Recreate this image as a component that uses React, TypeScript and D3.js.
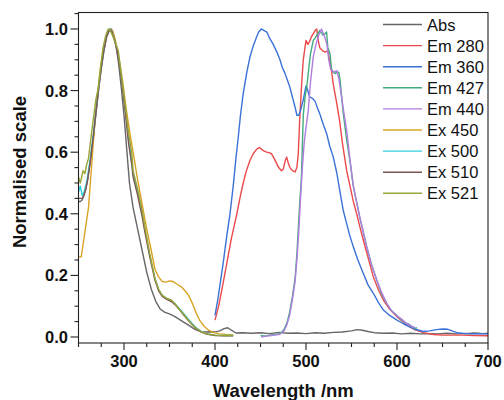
import React from "react";
import * as d3 from "d3";

const seriesNames = ["Abs", "Em 280", "Em 360", "Em 427", "Em 440", "Ex 450", "Ex 500", "Ex 510", "Ex 521"];
const seriesColors = ["#666666", "#eb4a4c", "#3b72d8", "#43ab7c", "#b07ee0", "#d9a424", "#30cfdc", "#7d5454", "#9aa63a"];

const absData: [number, number][] = [
  [250, 0.44], [252, 0.44], [254, 0.445], [256, 0.46], [258, 0.48], [260, 0.51], [263, 0.57], [266, 0.64], [269, 0.72],
  [272, 0.8], [275, 0.87], [278, 0.93], [281, 0.975], [284, 0.995], [286, 1.0], [288, 0.99], [291, 0.95], [294, 0.89],
  [297, 0.81], [300, 0.72], [303, 0.61], [306, 0.5], [310, 0.42], [315, 0.35], [320, 0.28], [325, 0.21], [330, 0.155],
  [335, 0.115], [340, 0.09], [345, 0.08], [350, 0.075], [356, 0.066], [362, 0.055], [370, 0.04], [378, 0.025], [385, 0.017],
  [390, 0.016], [395, 0.017], [400, 0.016], [405, 0.02], [410, 0.027], [414, 0.03], [418, 0.022], [423, 0.013], [430, 0.014],
  [440, 0.012], [450, 0.014], [460, 0.011], [470, 0.015], [480, 0.012], [490, 0.013], [500, 0.011], [510, 0.014], [520, 0.012],
  [530, 0.015], [540, 0.016], [550, 0.02], [556, 0.024], [562, 0.022], [568, 0.018], [575, 0.014], [585, 0.012], [595, 0.013],
  [605, 0.01], [615, 0.012], [625, 0.01], [635, 0.011], [645, 0.01], [655, 0.012], [665, 0.01], [675, 0.011], [685, 0.013],
  [695, 0.011], [700, 0.012],
];

const em280Data: [number, number][] = [
  [400, 0.055], [404, 0.1], [408, 0.16], [413, 0.24], [418, 0.32], [424, 0.4], [428, 0.46], [431, 0.5], [434.5, 0.54],
  [438.5, 0.574], [442, 0.595], [445.8, 0.61], [449, 0.615], [453, 0.605], [456.8, 0.6], [460, 0.598], [462, 0.595],
  [465, 0.58], [467.8, 0.563], [470, 0.55], [473, 0.54], [475, 0.545], [477, 0.57], [478.8, 0.584], [480.5, 0.565],
  [482.4, 0.55], [485, 0.54], [488, 0.536], [490, 0.55], [491.5, 0.595], [493, 0.7], [495, 0.81], [497, 0.9], [500, 0.963],
  [502, 0.95], [504, 0.96], [506, 0.975], [508, 0.985], [510, 0.995], [511.8, 1.0], [513, 0.97], [515, 0.94], [518, 0.93],
  [521, 0.925], [524, 0.93], [526, 0.9], [528, 0.865], [530, 0.82], [533.7, 0.76], [537, 0.7], [540, 0.63], [544.7, 0.54],
  [548.4, 0.49], [552, 0.44], [555.7, 0.4], [559, 0.36], [563, 0.314], [568, 0.26], [574, 0.195], [580, 0.15], [585, 0.12],
  [592, 0.09], [600, 0.066], [607, 0.048], [614, 0.033], [620, 0.023], [629, 0.014], [640, 0.008], [650, 0.006],
  [660, 0.006], [672, 0.006], [685, 0.005], [700, 0.004],
];

const em360Data: [number, number][] = [
  [400, 0.07], [403, 0.12], [406, 0.18], [409, 0.24], [413, 0.33], [416.5, 0.4], [420, 0.49], [423, 0.58], [425.6, 0.65],
  [428, 0.72], [431, 0.79], [435, 0.86], [438.5, 0.91], [442, 0.945], [445.8, 0.975], [448, 0.99], [451, 1.0], [454, 0.995],
  [457, 0.99], [460, 0.97], [464, 0.95], [468, 0.925], [471.4, 0.9], [474, 0.875], [477, 0.855], [480, 0.83], [482.4, 0.81],
  [485, 0.78], [488, 0.746], [490, 0.72], [492, 0.72], [494, 0.735], [497, 0.77], [500, 0.815], [502, 0.8], [504, 0.78],
  [507, 0.775], [510, 0.765], [513, 0.74], [515, 0.726], [519, 0.69], [522.7, 0.66], [526, 0.62], [530, 0.584], [534, 0.53],
  [537.4, 0.47], [541, 0.41], [544.7, 0.368], [548, 0.33], [552, 0.293], [557, 0.25], [563, 0.206], [568, 0.17],
  [574, 0.142], [580, 0.11], [585, 0.0875], [592, 0.07], [600, 0.055], [607, 0.043], [614, 0.033], [620, 0.025],
  [629, 0.018], [636, 0.02], [643, 0.024], [650, 0.026], [656, 0.025], [662, 0.018], [666, 0.014], [672, 0.012],
  [680, 0.01], [690, 0.011], [700, 0.01],
];

const em427Data: [number, number][] = [
  [450, 0.004], [455, 0.003], [460, 0.006], [465, 0.008], [470, 0.01], [473, 0.015], [476, 0.025], [479, 0.045], [482, 0.08],
  [485, 0.13], [488, 0.19], [490, 0.27], [491.5, 0.35], [493, 0.43], [495, 0.52], [497, 0.72], [499, 0.78], [500.8, 0.81],
  [503, 0.87], [505, 0.92], [508, 0.963], [510, 0.97], [512, 0.98], [515, 0.995], [518.7, 0.98], [521, 0.985], [522.6, 0.99],
  [524, 0.94], [526.4, 0.92], [528, 0.87], [530, 0.86], [532, 0.855], [534, 0.86], [536, 0.86], [537.4, 0.835], [541, 0.725],
  [544.7, 0.64], [548.4, 0.57], [552, 0.49], [559, 0.39], [566.7, 0.293], [572, 0.235], [577.7, 0.185], [583, 0.14],
  [588.7, 0.109], [594, 0.085], [599.7, 0.07], [605, 0.055], [610, 0.045], [614, 0.04], [617, 0.032], [620, 0.028], [622, 0.03],
];

const em440Data: [number, number][] = [
  [451, 0.0], [455, 0.002], [460, 0.004], [465, 0.006], [470, 0.008], [473, 0.012], [476, 0.02], [479, 0.04], [482, 0.07],
  [485, 0.12], [488, 0.18], [490, 0.25], [492, 0.34], [494, 0.45], [496, 0.55], [498, 0.63], [500, 0.68], [502.5, 0.736],
  [505, 0.83], [508, 0.91], [511, 0.95], [514, 0.98], [517, 1.0], [519, 0.985], [521, 0.97], [523, 0.95], [525, 0.9],
  [527, 0.87], [530, 0.86], [533.7, 0.865], [536, 0.84], [539, 0.78], [541.5, 0.73], [544.7, 0.67], [548.4, 0.574],
  [552, 0.49], [555.5, 0.44], [559, 0.39], [563, 0.34], [566.7, 0.293], [572, 0.235], [577.7, 0.185], [583, 0.145],
  [588.7, 0.109], [594, 0.085], [599.7, 0.07], [605, 0.058], [610, 0.045], [615, 0.036], [620, 0.03],
];

const ex450Data: [number, number][] = [
  [250, 0.26], [253, 0.26], [255, 0.3], [257, 0.34], [259, 0.38], [261, 0.42], [263, 0.5], [265, 0.58], [268, 0.7],
  [271, 0.79], [274, 0.87], [277, 0.93], [280, 0.97], [283, 0.995], [285, 1.0], [287, 0.995], [290, 0.97], [293, 0.93],
  [296, 0.88], [299, 0.82], [302, 0.75], [306, 0.67], [310, 0.6], [315, 0.51], [320, 0.43], [325, 0.35], [330, 0.28],
  [334, 0.22], [338, 0.195], [342, 0.18], [346, 0.178], [350, 0.182], [354, 0.18], [358, 0.172], [363, 0.163], [367, 0.15],
  [371, 0.135], [375, 0.11], [379, 0.08], [383, 0.055], [388, 0.035], [393, 0.022], [398, 0.015], [405, 0.01], [412, 0.008],
  [420, 0.007],
];

const ex500Data: [number, number][] = [
  [250, 0.47], [252, 0.49], [254, 0.46], [256, 0.47], [258, 0.49], [260, 0.52], [263, 0.58], [266, 0.65], [269, 0.73],
  [272, 0.81], [275, 0.88], [278, 0.94], [281, 0.98], [284, 1.0], [286, 0.995], [289, 0.97], [292, 0.94], [295, 0.89],
  [298, 0.82], [301, 0.75], [305, 0.64], [308.5, 0.57], [310, 0.53], [315, 0.47], [320, 0.4], [323, 0.35], [328, 0.27],
  [334, 0.19], [338, 0.155], [342, 0.135], [347, 0.125], [352, 0.118], [356, 0.108], [360, 0.095], [365, 0.078],
  [370, 0.06], [375, 0.043], [380, 0.028], [385, 0.018], [390, 0.011], [395, 0.008], [400, 0.006], [410, 0.005], [420, 0.005],
];

const ex510Data: [number, number][] = [
  [250, 0.45], [252, 0.45], [254, 0.45], [256, 0.46], [258, 0.48], [260, 0.51], [263, 0.57], [266, 0.645], [269, 0.725],
  [272, 0.805], [275, 0.875], [278, 0.935], [281, 0.978], [284, 0.998], [286, 0.995], [289, 0.97], [292, 0.935], [295, 0.885],
  [298, 0.815], [301, 0.74], [305, 0.63], [308.5, 0.56], [310, 0.52], [315, 0.46], [320, 0.39], [323, 0.34], [328, 0.265],
  [334, 0.185], [338, 0.15], [342, 0.132], [347, 0.122], [352, 0.115], [356, 0.105], [360, 0.092], [365, 0.074],
  [370, 0.056], [375, 0.04], [380, 0.026], [385, 0.016], [390, 0.01], [395, 0.007], [400, 0.005], [410, 0.004], [420, 0.004],
];

const ex521Data: [number, number][] = [
  [250, 0.52], [252, 0.5], [255, 0.54], [257, 0.53], [259, 0.56], [261, 0.58], [264, 0.655], [266, 0.7], [269, 0.77],
  [271.8, 0.81], [274, 0.87], [277, 0.94], [280, 0.98], [282.7, 1.0], [285, 0.995], [288, 0.975], [291, 0.95], [293.7, 0.93],
  [297, 0.85], [301, 0.76], [305, 0.66], [308.5, 0.6], [310, 0.54], [315, 0.48], [320, 0.41], [323, 0.355], [328, 0.275],
  [334, 0.19], [338, 0.155], [342, 0.135], [347, 0.125], [352, 0.12], [356, 0.108], [360, 0.093], [365, 0.075],
  [370, 0.057], [375, 0.04], [380, 0.027], [385, 0.017], [390, 0.011], [395, 0.008], [400, 0.006], [410, 0.005], [420, 0.005],
];

const seriesData = [absData, em280Data, em360Data, em427Data, em440Data, ex450Data, ex500Data, ex510Data, ex521Data];

const xTicks = [300, 400, 500, 600, 700];
const yTicks = [0.0, 0.2, 0.4, 0.6, 0.8, 1.0];
const xDomain: [number, number] = [250, 700];
const yDomain: [number, number] = [-0.0195, 1.0535];

export default function App() {
  const W = 504, H = 400;
  const left = 78.5, right = 488, top = 12.5, bottom = 343;
  const x = d3.scaleLinear().domain(xDomain).range([left, right]);
  const y = d3.scaleLinear().domain(yDomain).range([bottom, top]);
  const line = d3.line<[number, number]>().x(d => x(d[0])).y(d => y(d[1])).curve(d3.curveLinear);
  const xMinor = d3.range(250, 701, 25);
  const yMinor = d3.range(0, 1.051, 0.05);
  const font = "'Liberation Sans', Arial, sans-serif";
  const axisColor = "#222";
  return (
    <svg width={W} height={H} style={{ position: "absolute", left: 0, top: 0, background: "#fff" }} fontFamily={font}>
      <rect x={0} y={0} width={W} height={H} fill="#fff" />
      <g>
        {seriesData.map((d, i) => (
          <path key={i} d={line(d) || ""} fill="none" stroke={seriesColors[i]} strokeWidth={1.4} strokeLinejoin="round" />
        ))}
      </g>
      <rect x={left} y={top} width={right - left} height={bottom - top} fill="none" stroke={axisColor} strokeWidth={1.1} />
      {xMinor.map(v => (
        <line key={"xm" + v} x1={x(v)} x2={x(v)} y1={bottom} y2={bottom + (v % 100 === 0 ? 7 : 4)} stroke={axisColor} strokeWidth={1.1} />
      ))}
      {yMinor.map((v, i) => (
        <line key={"ym" + i} x1={left} x2={left - (i % 4 === 0 ? 8 : 4)} y1={y(v)} y2={y(v)} stroke={axisColor} strokeWidth={1.1} />
      ))}
      {xTicks.map(v => (
        <text key={"xt" + v} x={x(v)} y={367} textAnchor="middle" fontSize={16.5} fontWeight="bold" fill="#111">{v}</text>
      ))}
      {yTicks.map(v => (
        <text key={"yt" + v} x={68} y={y(v) + 6} textAnchor="end" fontSize={16.5} fontWeight="bold" fill="#111">{v.toFixed(1)}</text>
      ))}
      <text x={(left + right) / 2} y={397} textAnchor="middle" fontSize={18.5} fontWeight="bold" fill="#111">Wavelength /nm</text>
      <text transform={`translate(25.5, ${172}) rotate(-90)`} textAnchor="middle" fontSize={18.5} fontWeight="bold" fill="#111">Normalised scale</text>
      <g>
        {seriesNames.map((name, i) => {
          const ly = 24.5 + i * 21.1;
          return (
            <g key={name}>
              <line x1={383} x2={422} y1={ly} y2={ly} stroke={seriesColors[i]} strokeWidth={1.4} />
              <text x={427} y={ly + 6} fontSize={16.5} fill="#111">{name}</text>
            </g>
          );
        })}
      </g>
    </svg>
  );
}
